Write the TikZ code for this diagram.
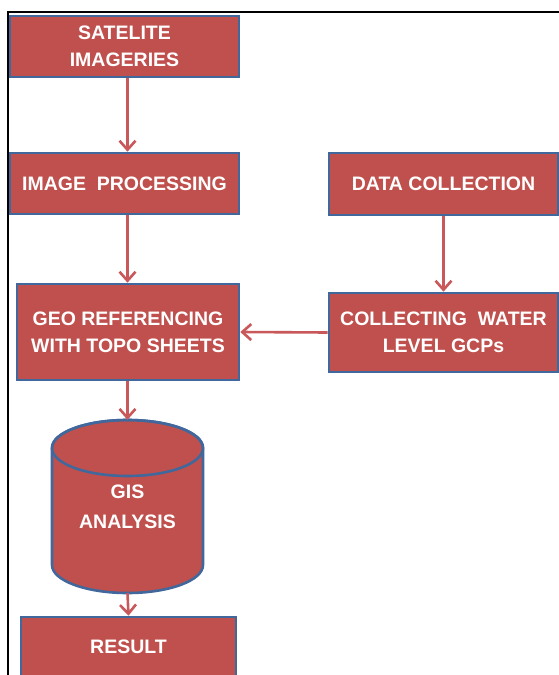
\documentclass[tikz,border=0pt]{standalone}
\usepackage{fontspec}
\setmainfont{Liberation Sans}
\usetikzlibrary{arrows.meta}
\definecolor{boxred}{HTML}{C0504D}
\definecolor{boxblue}{HTML}{41689C}
\definecolor{linkred}{HTML}{C8585A}
\begin{document}
\begin{tikzpicture}[x=1pt,y=-1pt,
  stepbox/.style={draw=boxblue,fill=boxred,line width=2.6pt,text=white,
    font=\fontsize{19.5}{27}\selectfont\bfseries,align=center,inner sep=0pt},
  link/.style={draw=linkred,line width=2.6pt,
    -{Straight Barb[length=9pt,width=16pt,line width=2.6pt]}}]
\useasboundingbox (0,0) rectangle (559,675);
\clip (0,0) rectangle (559,675);
\fill[white] (0,0) rectangle (559,675);
% frame
\draw[black,line width=2.4pt] (8,690) -- (8,12) -- (580,12);
% boxes
\node[stepbox,minimum width=229pt,minimum height=61pt] (sat) at (124.5,46.5) {SATELITE\\IMAGERIES};
\node[stepbox,minimum width=229pt,minimum height=61pt] (img) at (124.5,183.5) {IMAGE\ \ PROCESSING};
\node[stepbox,minimum width=229pt,minimum height=62pt] (data) at (443.5,184) {DATA COLLECTION};
\node[stepbox,minimum width=229pt,minimum height=79pt] (coll) at (443.5,332.5) {COLLECTING\ \ WATER\\LEVEL GCPs};
\node[stepbox,minimum width=222pt,minimum height=96pt] (geo) at (128,332) {GEO REFERENCING\\WITH TOPO SHEETS};
% cylinder
\filldraw[fill=boxred,draw=boxblue,line width=2.6pt]
  (52,448) -- (52,565) arc[start angle=180,end angle=360,x radius=75.5,y radius=-28]
  -- (203,448) arc[start angle=0,end angle=180,x radius=75.5,y radius=-28] -- cycle;
\draw[boxblue,line width=2.6pt] (127.5,448) ellipse[x radius=75.5,y radius=28];
\node[text=white,font=\fontsize{19.5}{30}\selectfont\bfseries,align=center,
  minimum width=151pt,minimum height=173pt,inner sep=0pt] (gis) at (127.5,506.5) {GIS\\ANALYSIS};
\node[stepbox,minimum width=215pt,minimum height=60pt] (res) at (128.5,647) {RESULT};
% connectors
\draw[link] (sat.south -| gis.north) -- (img.north -| gis.north);
\draw[link] (img.south -| gis.north) -- (geo.north -| gis.north);
\draw[link] (data.south) -- (coll.north);
\draw[link] (coll.west) -- (geo.east);
\draw[link] (geo.south -| gis.north) -- (gis.north);
\draw[link] (gis.south) -- (res.north);
\end{tikzpicture}
\end{document}
